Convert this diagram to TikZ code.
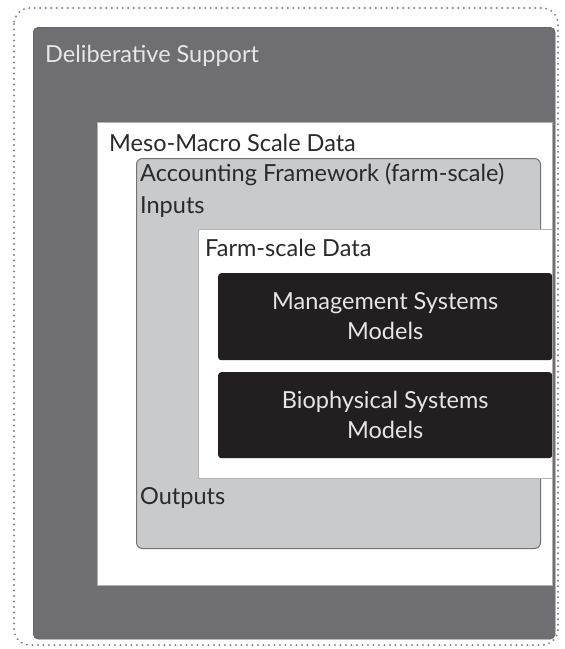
\documentclass[tikz,border=0pt]{standalone}
\usepackage{fontspec}
\setmainfont{Lato}
\definecolor{darkbg}{HTML}{6F6E73}
\definecolor{lightbox}{HTML}{C9CACC}
\definecolor{blackbox}{HTML}{231F20}
\definecolor{txtdark}{HTML}{2A2A2A}
\definecolor{txtlight}{HTML}{E6E6E6}
\tikzset{
  lbl/.style={anchor=west, inner sep=0pt, text=txtdark, font=\fontsize{23.5}{27}\selectfont},
  modeltxt/.style={align=center, inner sep=0pt, text=txtlight, font=\fontsize{23.5}{30}\selectfont},
}
\begin{document}
\begin{tikzpicture}[x=1pt,y=-1pt]
\useasboundingbox (0,0) rectangle (565,649);
% outer dotted frame
\draw[gray, line width=2.2pt, line cap=round, dash pattern=on 0pt off 5.5pt, rounded corners=16pt] (14,8) rectangle (558,645);
% deliberative support
\node[draw=darkbg!80!black, fill=darkbg, rounded corners=5pt, minimum width=522pt, minimum height=612pt, anchor=north west, inner sep=0pt] (delib) at (33,27) {};
\node[anchor=west, inner sep=0pt, text=txtlight, font=\fontsize{23.5}{27}\selectfont] (delibt) at (45,56) {Deliberative Support};
% meso-macro
\node[draw=gray!60, fill=white, line width=1pt, minimum width=455pt, minimum height=463pt, anchor=north west, inner sep=0pt] (meso) at (97,122) {};
\node[lbl] (mesot) at (109,143) {Meso-Macro Scale Data};
% accounting framework
\node[draw=gray!90!black, fill=lightbox, line width=1pt, rounded corners=6pt, minimum width=404pt, minimum height=390pt, anchor=north west, inner sep=0pt] (acc) at (136,158) {};
\node[lbl] (acct) at (140,175) {Accounting Framework (farm-scale)};
\node[lbl] (inp) at (140,207) {Inputs};
% farm-scale data
\node[draw=gray!60, fill=white, line width=1pt, minimum width=354pt, minimum height=249pt, anchor=north west, inner sep=0pt] (farm) at (198,229) {};
\node[lbl] (farmt) at (205,248) {Farm-scale Data};
% models
\node[fill=blackbox, rounded corners=3pt, minimum width=334pt, minimum height=87pt, anchor=north west, inner sep=0pt] (mgmt) at (218,273) {};
\node[modeltxt] (mgmtt) at ([yshift=0.5pt]mgmt.center) {Management Systems\\Models};
\node[fill=blackbox, rounded corners=3pt, minimum width=334pt, minimum height=86pt, anchor=north west, inner sep=0pt] (bio) at (218,372) {};
\node[modeltxt] (biot) at ([yshift=0.5pt]bio.center) {Biophysical Systems\\Models};
% outputs
\node[lbl] (outp) at (140,498) {Outputs};
\end{tikzpicture}
\end{document}
